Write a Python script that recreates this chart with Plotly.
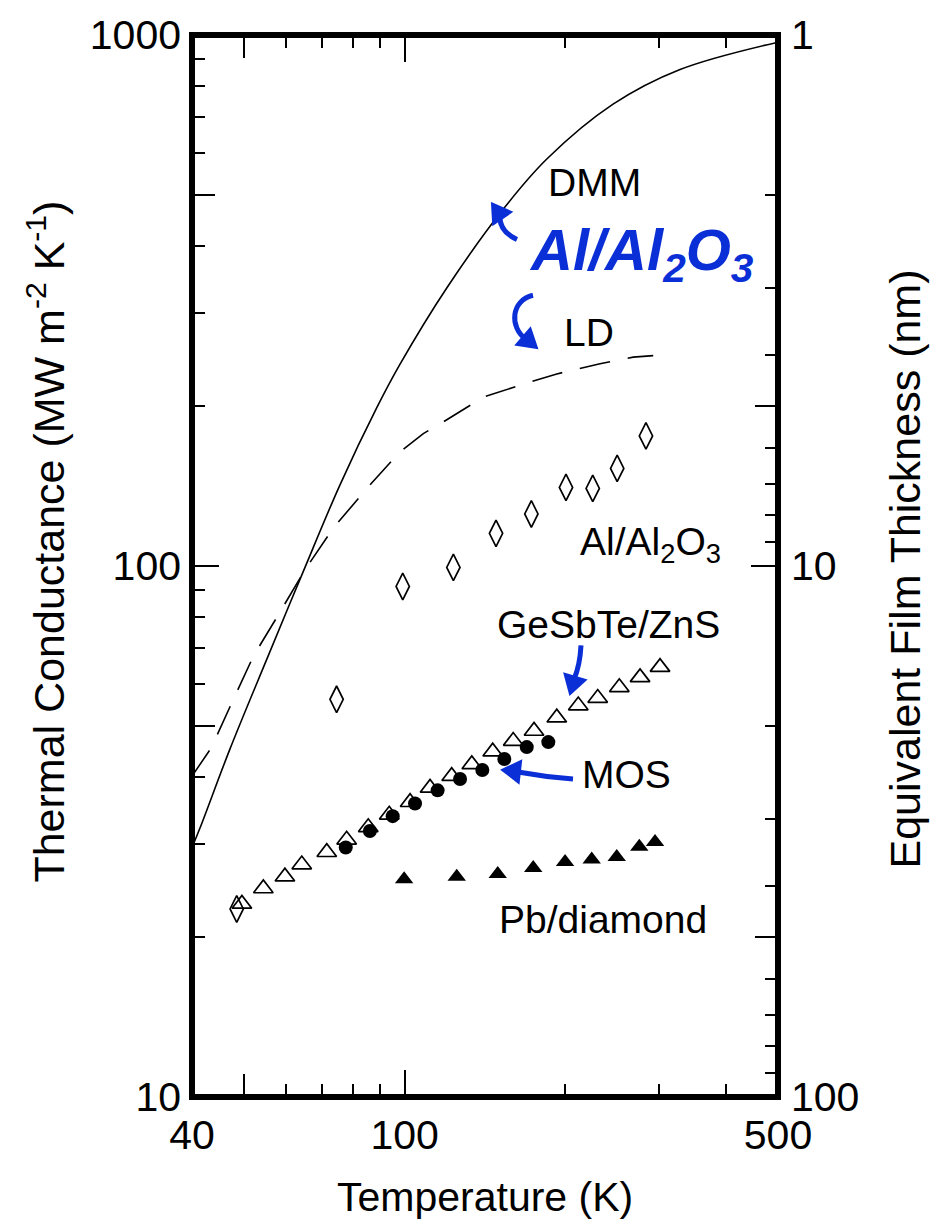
import numpy as np
import plotly.graph_objects as go

# ---------------- data ----------------
dmm_T = [40, 41.4, 47.1, 55.3, 64.6, 75.7, 88.8, 98.0, 120.1, 152.9, 184.8, 245.6, 327.8, 500]
dmm_G = [29.5, 32.1, 45.2, 67.0, 97.6, 142.2, 199.1, 239.7, 334.6, 469.6, 584.6, 740.8, 861, 969.4]

ld_T = [40, 43.5, 47.5, 52.1, 58.5, 65.1, 73.5, 85, 98, 108.4, 118.2, 140.4, 171.7, 192.7, 232.2, 268, 292]
ld_G = [40.2, 45.5, 55.3, 67.6, 82, 98.4, 117.8, 140, 164, 177.6, 186.8, 208, 222, 230, 240.3, 247.4, 249]

alo_T = [48.5, 74.6, 99.2, 123.4, 148.3, 172.7, 200.5, 225, 250, 283]
alo_G = [22.6, 56.1, 91.5, 99.4, 115.2, 125.3, 140.6, 140, 152.7, 175.8]

gst_T = [49.6, 54.4, 59.7, 64.2, 71.5, 77.9, 85.5, 93.6, 102.4, 111.6, 122.5, 133.6,
         146.2, 159.7, 174.7, 192.7, 211.4, 229.9, 252.3, 275.9, 300.7]
gst_G = [23.1, 24.7, 26.0, 27.4, 28.9, 30.5, 32.2, 34.0, 35.9, 38.2, 40.2, 42.3,
         44.7, 46.8, 48.9, 51.8, 54.6, 56.4, 59.1, 61.7, 64.5]

mos_T = [77.6, 86.1, 95.0, 104.6, 115.3, 127.0, 139.8, 153.7, 169.3, 185.8]
mos_G = [29.5, 31.7, 33.8, 35.7, 37.8, 39.7, 41.3, 43.3, 45.6, 46.6]

pb_T = [99.8, 125.2, 149.4, 174.1, 199.7, 224.0, 249.5, 275.0, 294.3]
pb_G = [25.7, 26.0, 26.3, 27.0, 27.7, 28.0, 28.3, 29.6, 30.2]

x_ticks = [40, 100, 500]
x_mid_ticks = [50]
x_minor_ticks = [60, 70, 80, 90, 200, 300, 400]
y_ticks = [10, 100, 1000]
y_mid_ticks = [50, 500]
y_minor_ticks = [20, 30, 40, 60, 70, 80, 90, 200, 300, 400, 600, 700, 800, 900]
t_ticks = [1, 10, 100]
t_mid_ticks = [5, 50]
t_minor_ticks = [2, 3, 4, 6, 7, 8, 9, 20, 30, 40, 60, 70, 80, 90]

# ---------------- layout constants ----------------
FIG_W, FIG_H = 941, 1223
L, R, T, B = 192, 163, 32, 126
W = FIG_W - L - R
H = FIG_H - T - B
FONT = "Liberation Sans, Arial, Helvetica, sans-serif"
BLUE = "#0b2fd6"
FS = 39


def px(x):
    return (x - L) / W


def py(y):
    return (FIG_H - B - y) / H


fig = go.Figure()

fig.add_trace(go.Scatter(x=dmm_T, y=dmm_G, mode="lines",
                         line=dict(color="black", width=1.6, shape="spline", smoothing=1.0),
                         showlegend=False, hoverinfo="skip"))
fig.add_trace(go.Scatter(x=ld_T, y=ld_G, mode="lines",
                         line=dict(color="black", width=1.6, dash="31px,18px"),
                         showlegend=False, hoverinfo="skip"))
fig.add_trace(go.Scatter(x=alo_T, y=alo_G, mode="markers",
                         marker=dict(symbol="diamond-tall-open", size=19, color="black",
                                     line=dict(width=1.7, color="black")),
                         showlegend=False, hoverinfo="skip"))
fig.add_trace(go.Scatter(x=gst_T, y=gst_G, mode="markers",
                         marker=dict(symbol="triangle-up-open", size=17, color="black",
                                     line=dict(width=1.7, color="black")),
                         showlegend=False, hoverinfo="skip"))
fig.add_trace(go.Scatter(x=mos_T, y=mos_G, mode="markers",
                         marker=dict(symbol="circle", size=14, color="black"),
                         showlegend=False, hoverinfo="skip"))
fig.add_trace(go.Scatter(x=pb_T, y=pb_G, mode="markers",
                         marker=dict(symbol="triangle-up", size=16, color="black"),
                         showlegend=False, hoverinfo="skip"))

# dummy traces so that the tick-only overlay axes are drawn
for xa, ya in [("x2", "y"), ("x3", "y"), ("x4", "y"), ("x", "y2"), ("x", "y3"), ("x", "y4")]:
    fig.add_trace(go.Scatter(x=[None], y=[None], xaxis=xa, yaxis=ya, mode="markers",
                             showlegend=False, hoverinfo="skip"))

xr = [np.log10(40), np.log10(500)]
yr = [1, 3]
tr = [2, 0]

common = dict(type="log", showgrid=False, zeroline=False, showline=False,
              ticks="inside", tickcolor="black", tickwidth=1.5)
tickfont = dict(family=FONT, size=41, color="black")


def minor(vals, ln=13):
    return dict(tickmode="array", tickvals=vals, ticks="inside", ticklen=ln,
                tickcolor="black", tickwidth=1.5, showgrid=False)


fig.update_layout(
    width=FIG_W, height=FIG_H,
    margin=dict(l=L, r=R, t=T, b=B, pad=0),
    paper_bgcolor="white", plot_bgcolor="white",
    font=dict(family=FONT, color="black"),
    xaxis=dict(**common, range=xr, tickmode="array", tickvals=x_ticks,
               ticktext=[str(v) for v in x_ticks], ticklen=27, tickfont=tickfont,
               ticklabelstandoff=10, minor=minor(x_minor_ticks)),
    xaxis2=dict(**common, range=xr, overlaying="x", side="top", anchor="y",
                tickmode="array", tickvals=x_ticks, ticklen=27, showticklabels=False,
                minor=minor(x_minor_ticks)),
    xaxis3=dict(**common, range=xr, overlaying="x", side="bottom", anchor="y",
                tickmode="array", tickvals=x_mid_ticks, ticklen=23, showticklabels=False),
    xaxis4=dict(**common, range=xr, overlaying="x", side="top", anchor="y",
                tickmode="array", tickvals=x_mid_ticks, ticklen=23, showticklabels=False),
    yaxis=dict(**common, range=yr, tickmode="array", tickvals=y_ticks,
               ticktext=[str(v) for v in y_ticks], ticklen=27, tickfont=tickfont,
               ticklabelstandoff=10, minor=minor(y_minor_ticks)),
    yaxis3=dict(**common, range=yr, overlaying="y", side="left", anchor="x",
                tickmode="array", tickvals=y_mid_ticks, ticklen=23, showticklabels=False),
    yaxis2=dict(**common, range=tr, overlaying="y", side="right", anchor="x",
                tickmode="array", tickvals=t_ticks, ticktext=[str(v) for v in t_ticks],
                ticklen=27, tickfont=tickfont, ticklabelstandoff=12,
                minor=minor(t_minor_ticks)),
    yaxis4=dict(**common, range=tr, overlaying="y", side="right", anchor="x",
                tickmode="array", tickvals=t_mid_ticks, ticklen=23, showticklabels=False),
)

# frame
fig.add_shape(type="rect", xref="paper", yref="paper", x0=0, x1=1, y0=0, y1=1,
              line=dict(color="black", width=6), layer="above")

# axis titles
fig.add_annotation(x=px(485), y=py(1197), xref="paper", yref="paper", showarrow=False,
                   xanchor="center", yanchor="middle",
                   text="Temperature (K)", font=dict(family=FONT, size=41, color="black"))
fig.add_annotation(x=px(46), y=py(540), xref="paper", yref="paper", showarrow=False,
                   xanchor="center", yanchor="middle", textangle=-90,
                   text="Thermal Conductance (MW m<sup>-2</sup> K<sup>-1</sup>)",
                   font=dict(family=FONT, size=43, color="black"))
fig.add_annotation(x=px(905), y=py(568), xref="paper", yref="paper", showarrow=False,
                   xanchor="center", yanchor="middle", textangle=-90,
                   text="Equivalent Film Thickness (nm)",
                   font=dict(family=FONT, size=43, color="black"))

# series labels (left edge, vertical centre of capitals)
labels = [
    ("DMM", 546, 180),
    ("LD", 562, 330),
    ("Al/Al<sub>2</sub>O<sub>3</sub>", 578, 543),
    ("GeSbTe/ZnS", 495, 623),
    ("MOS", 580, 774),
    ("Pb/diamond", 497, 919),
]
for txt, lx, ly in labels:
    fig.add_annotation(x=px(lx), y=py(ly), xref="paper", yref="paper", showarrow=False,
                       xanchor="left", yanchor="middle", text=txt,
                       font=dict(family=FONT, size=FS, color="black"))

# blue hand-written note
fig.add_annotation(x=px(527), y=py(252), xref="paper", yref="paper", showarrow=False,
                   xanchor="left", yanchor="middle",
                   text="<b><i>Al/Al<sub>2</sub>O<sub>3</sub></i></b>",
                   font=dict(family=FONT, size=58, color=BLUE))


def path_paper(cmds):
    out = []
    for c in cmds:
        if isinstance(c, str):
            out.append(c)
        else:
            out.append(f"{px(c[0]):.5f},{py(c[1]):.5f}")
    return " ".join(out)


def head(tip, frm, ln=18, hw=11):
    tx, ty = tip
    dx, dy = tx - frm[0], ty - frm[1]
    n = (dx * dx + dy * dy) ** 0.5
    ux, uy = dx / n, dy / n
    bx, by = tx - ux * ln, ty - uy * ln
    pxp, pyp = -uy, ux
    return ["M", (tx, ty), "L", (bx + pxp * hw, by + pyp * hw), "L",
            (bx - pxp * hw, by - pyp * hw), "Z"]


arrows = [
    (["M", (517, 237), "Q", (499, 229), (500, 213)], (492, 201), (501, 214)),
    (["M", (533, 293), "C", (511, 298), (509, 325), (526, 337)], (537, 346), (524, 335)),
    (["M", (581, 644), "Q", (580, 664), (574, 678)], (570, 693), (575, 676)),
    (["M", (573, 778), "Q", (545, 776), (518, 771)], (502, 769), (520, 771)),
]
for body, tip, frm in arrows:
    fig.add_shape(type="path", xref="paper", yref="paper", path=path_paper(body),
                  line=dict(color=BLUE, width=5), layer="above")
    fig.add_shape(type="path", xref="paper", yref="paper", path=path_paper(head(tip, frm)),
                  line=dict(color=BLUE, width=2), fillcolor=BLUE, layer="above")

fig.write_html("out.html")
